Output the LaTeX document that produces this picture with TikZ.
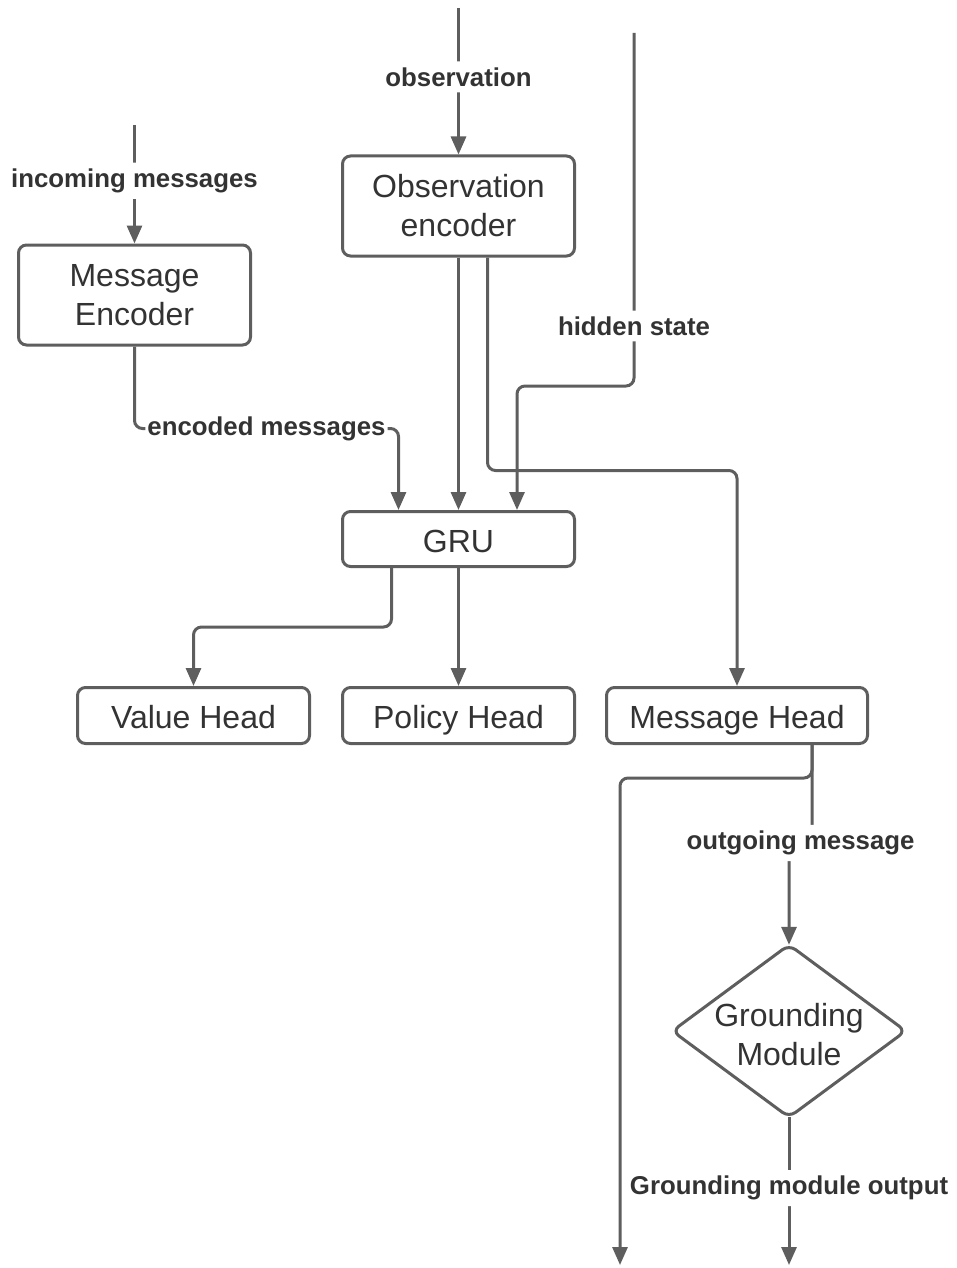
\documentclass[tikz,border=0pt]{standalone}
\usepackage{fontspec}
\setmainfont{Liberation Sans}
\usetikzlibrary{arrows.meta,calc}
\definecolor{lnc}{HTML}{5E5E5E}
\definecolor{txc}{HTML}{333333}
\begin{document}
\begin{tikzpicture}[x=1pt,y=-1pt,
  box/.style={draw=lnc, line width=3pt, rounded corners=8pt, fill=white, text=txc,
    font=\fontsize{32}{39}\selectfont, align=center, inner sep=0pt, minimum width=232pt},
  oneline/.style={text height=27pt, text depth=1pt},
  lbl/.style={fill=white, text=txc, font=\bfseries\fontsize{25.8}{30}\selectfont,
    inner xsep=2pt, inner ysep=6pt},
  arr/.style={draw=lnc, line width=3pt, rounded corners=8pt,
    -{Triangle[length=18pt,width=15pt]}},
  plain/.style={draw=lnc, line width=3pt, rounded corners=8pt}]
\useasboundingbox (0,0) rectangle (956,1268);

% nodes
\node[box, minimum height=100pt] (menc) at (134.5,295) {Message\\Encoder};
\node[box, minimum height=100pt] (oenc) at (458.5,206) {Observation\\encoder};
\node[box, oneline, minimum height=55pt] (gru) at (458.5,539) {GRU};
\node[box, oneline, minimum height=56pt] (vh) at (193.5,715.5) {Value Head};
\node[box, oneline, minimum height=56pt] (ph) at (458.5,715.5) {Policy Head};
\node[box, oneline, minimum height=56pt, minimum width=261pt] (mh) at (737,715.5) {Message Head};
\node[text=txc, font=\fontsize{32}{39}\selectfont, align=center, inner sep=0pt,
  minimum width=233pt, minimum height=172pt] (gm) at (789,1035) {Grounding\\Module};
\coordinate (gmn) at ([yshift=4pt]gm.north);
\coordinate (gms) at ([yshift=4pt]gm.south);
\coordinate (gme) at ([yshift=4pt]gm.east);
\coordinate (gmw) at ([yshift=4pt]gm.west);
\draw[plain, line join=round] (gmn) -- (gme) -- (gms) -- (gmw) -- cycle;

% free ends
\coordinate (obsin) at (458.5,8);
\coordinate (msgin) at (134.5,125);
\coordinate (hin) at (634,33);
\coordinate (out1) at (620,1265);
\coordinate (out2) at (789,1265);

% connectors
\draw[arr] (obsin) -- node[lbl, pos=0.47] {observation} (oenc.north);
\draw[arr] (msgin) -- node[lbl, pos=0.47] {incoming messages} (menc.north);
\draw[arr] (hin) -- node[lbl, pos=0.83] {hidden state} ++(0,353) -| ([xshift=58.5pt]gru.north);
\draw[arr] (oenc.south) -- (gru.north);
\draw[arr] ([xshift=29pt]oenc.south) -- ++(0,213) -| (mh.north);
\draw[arr] (menc.south) -- ++(0,82) -- node[lbl, inner ysep=2pt] {encoded messages} ++(264,0) -- ([xshift=-60pt]gru.north);
\draw[arr] ([xshift=-67pt]gru.south) -- ++(0,59) -| (vh.north);
\draw[arr] (gru.south) -- (ph.north);
\draw[arr] ([xshift=75pt]mh.south) -- ++(0,33) -| (out1);
\draw[arr] ([xshift=75pt]mh.south) -- ++(0,98) -- node[lbl] {outgoing message} ++(-23,0) -- (gmn);
\draw[arr] (gms) -- node[lbl, pos=0.48] {Grounding module output} (out2);
\end{tikzpicture}
\end{document}
